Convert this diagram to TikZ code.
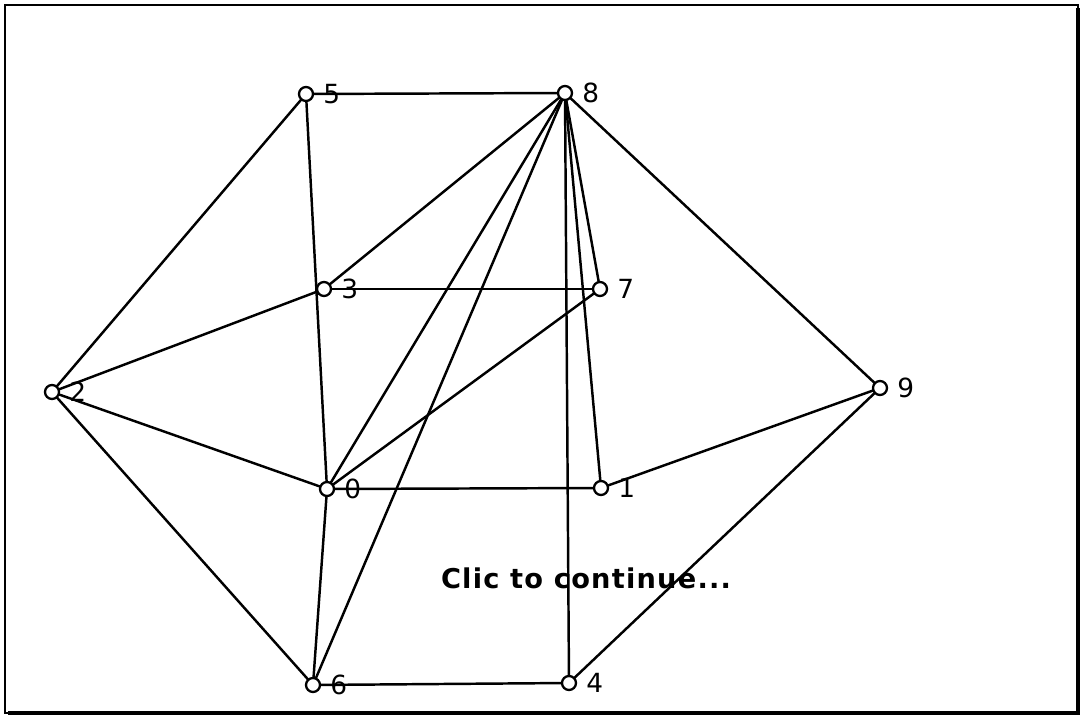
\documentclass[tikz,border=0pt]{standalone}
\usepackage{fontspec}
\setmainfont{DejaVu Sans}
\begin{document}
\begin{tikzpicture}[x=0.02cm,y=-0.02cm,
  v/.style={circle,draw,line width=1.3pt,fill=white,minimum size=0.28cm,inner sep=0pt,
    label={[lab,label distance=3.5pt]right:#1}},
  lab/.style={font=\fontsize{15}{17}\selectfont,inner sep=1.5pt},
  e/.style={line width=1.4pt},
  msg/.style={font=\fontsize{15.5}{18}\selectfont\bfseries\addfontfeatures{LetterSpace=4.5}}]
\useasboundingbox (0,0) rectangle (1088,722);
\draw[line width=1.2pt] (5,5) rectangle (1078,713);
\draw[line width=1.8pt] (1078,8) -- (1078,713) -- (8,713);
% vertices
\coordinate (p5) at (306,94);
\coordinate (p8) at (565,93);
\coordinate (p3) at (324,289);
\coordinate (p7) at (600,289);
\coordinate (p2) at (52,392);
\coordinate (p9) at (880,388);
\coordinate (p0) at (327,489);
\coordinate (p1) at (601,488);
\coordinate (p6) at (313,685);
\coordinate (p4) at (569,683);
% edges
\foreach \a/\b in {5/8,5/2,5/0,8/3,8/0,8/6,8/7,8/1,8/4,8/9,3/7,3/2,2/0,2/6,7/0,0/1,0/6,1/9,9/4,6/4}
  \draw[e] (p\a) -- (p\b);
% nodes
\foreach \n in {0,...,9}
  \node[v=\n] (n\n) at (p\n) {};
\node[msg] (msg) at (586,578) {Clic to continue...};
\end{tikzpicture}
\end{document}
